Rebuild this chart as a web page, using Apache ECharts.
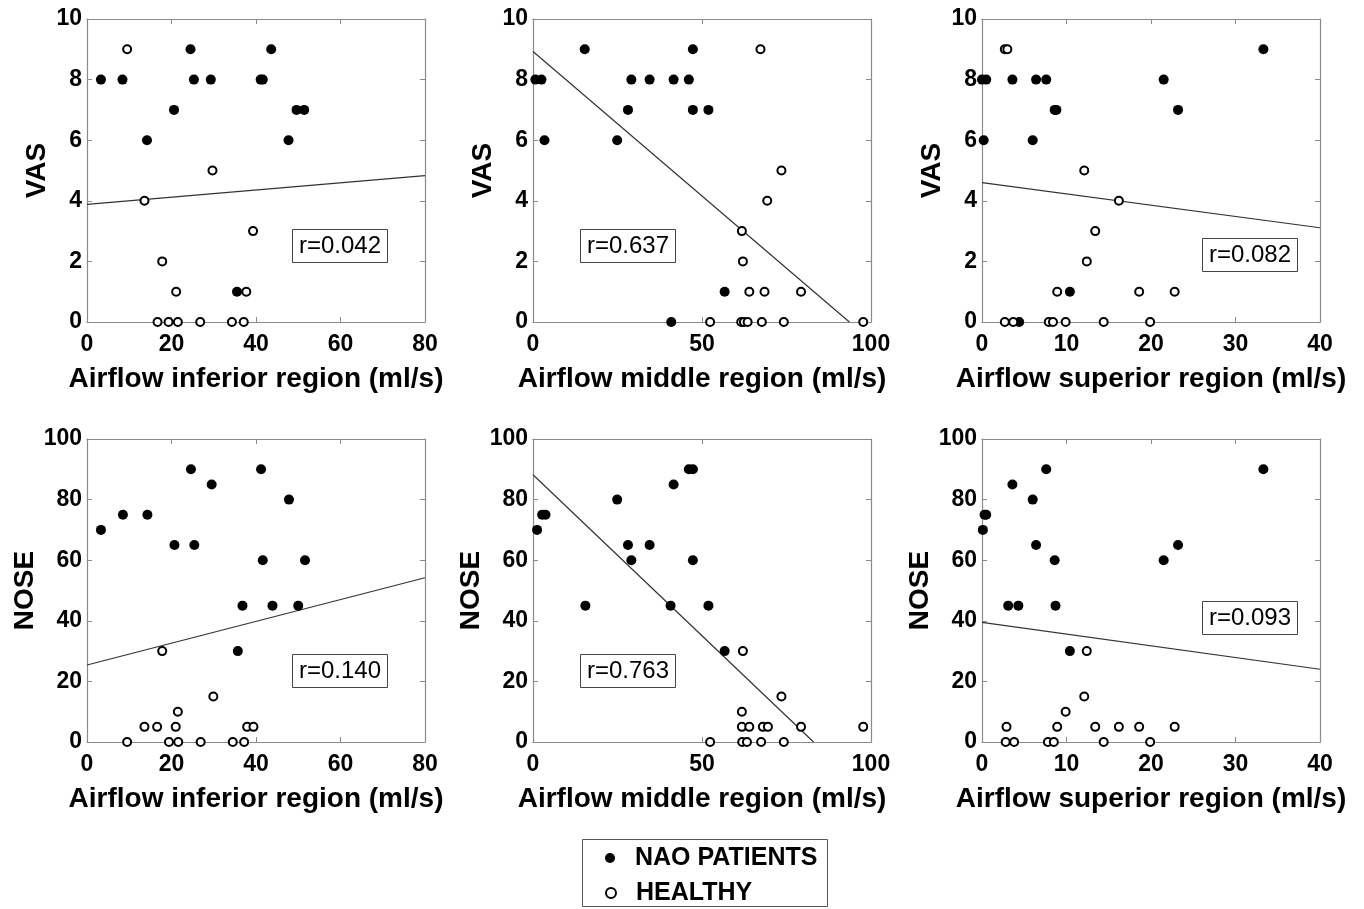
<!DOCTYPE html>
<html>
<head>
<meta charset="utf-8">
<script src="https://cdn.jsdelivr.net/npm/echarts@6/dist/echarts.min.js"></script>
<style>
  html, body { margin: 0; padding: 0; background: #fff; }
  #chart { width: 1364px; height: 909px; }
</style>
</head>
<body>
<div id="chart"></div>
<script>
  // points are [airflow, score]
  const vasInfNao = [[3.3, 8], [8.4, 8], [24.5, 9], [25.3, 8], [29.3, 8], [20.6, 7], [14.2, 6], [41.1, 8], [41.6, 8], [43.6, 9], [49.6, 7], [51.4, 7], [47.7, 6], [35.5, 1]]
  const vasInfHealthy = [[9.5, 9], [29.7, 5], [13.6, 4], [39.3, 3], [17.8, 2], [21.1, 1], [37.7, 1], [16.7, 0], [19.3, 0], [21.5, 0], [26.8, 0], [34.3, 0], [37.1, 0]]
  const vasInfFit = [[0, 3.88], [80, 4.83]]

  const vasMidNao = [[0.7, 8], [2.5, 8], [3.4, 6], [15.3, 9], [24.9, 6], [28.1, 7], [29.1, 8], [34.5, 8], [41.6, 8], [46.1, 8], [47.3, 9], [47.3, 7], [51.9, 7], [56.7, 1], [40.9, 0]]
  const vasMidHealthy = [[67.3, 9], [73.5, 5], [69.3, 4], [61.8, 3], [62.1, 2], [64.0, 1], [68.5, 1], [79.3, 1], [52.4, 0], [61.6, 0], [62.4, 0], [63.5, 0], [67.7, 0], [74.2, 0], [97.7, 0]]
  const vasMidFit = [[0, 8.93], [93.6, 0]]

  const vasSupNao = [[0, 8], [0.5, 8], [3.6, 8], [6.4, 8], [7.6, 8], [8.6, 7], [8.8, 7], [0.2, 6], [6.0, 6], [33.3, 9], [21.5, 8], [23.2, 7], [10.4, 1], [4.4, 0]]
  const vasSupHealthy = [[2.7, 9], [3.0, 9], [12.1, 5], [16.2, 4], [13.4, 3], [12.4, 2], [8.9, 1], [18.6, 1], [22.8, 1], [2.7, 0], [3.7, 0], [7.9, 0], [8.4, 0], [9.9, 0], [14.4, 0], [19.9, 0]]
  const vasSupFit = [[0, 4.60], [40, 3.11]]

  const noseInfNao = [[3.3, 70], [8.5, 75], [14.3, 75], [24.6, 90], [29.5, 85], [20.7, 65], [25.4, 65], [41.2, 90], [47.8, 80], [41.6, 60], [51.6, 60], [36.8, 45], [43.9, 45], [50.0, 45], [35.7, 30]]
  const noseInfHealthy = [[17.8, 30], [29.9, 15], [21.5, 10], [13.6, 5], [16.6, 5], [21.0, 5], [37.9, 5], [39.4, 5], [9.5, 0], [19.4, 0], [21.6, 0], [26.9, 0], [34.5, 0], [37.2, 0]]
  const noseInfFit = [[0, 25.4], [80, 54.2]]

  const noseMidNao = [[1.2, 70], [2.7, 75], [3.7, 75], [24.9, 80], [28.1, 65], [29.1, 60], [34.5, 65], [15.5, 45], [40.7, 45], [41.6, 85], [46.1, 90], [47.3, 90], [47.3, 60], [51.9, 45], [56.7, 30]]
  const noseMidHealthy = [[62.1, 30], [73.5, 15], [61.8, 10], [61.8, 5], [64.0, 5], [68.0, 5], [69.5, 5], [79.3, 5], [97.7, 5], [52.4, 0], [61.9, 0], [63.3, 0], [67.5, 0], [74.2, 0]]
  const noseMidFit = [[0, 88.2], [83.0, 0]]

  const noseSupNao = [[0.1, 70], [0.3, 75], [0.5, 75], [3.6, 85], [6.0, 80], [7.6, 90], [6.4, 65], [8.6, 60], [3.1, 45], [4.3, 45], [8.7, 45], [10.4, 30], [21.5, 60], [23.2, 65], [33.3, 90]]
  const noseSupHealthy = [[12.4, 30], [12.1, 15], [9.9, 10], [2.9, 5], [8.9, 5], [13.4, 5], [16.2, 5], [18.6, 5], [22.8, 5], [2.8, 0], [3.8, 0], [7.8, 0], [8.5, 0], [14.4, 0], [19.9, 0]]
  const noseSupFit = [[0, 39.5], [40, 24.0]]

  const rLabels = ['r=0.042', 'r=0.637', 'r=0.082', 'r=0.140', 'r=0.763', 'r=0.093']
  const xNames = ['Airflow inferior region (ml/s)', 'Airflow middle region (ml/s)', 'Airflow superior region (ml/s)']
  const yNames = ['VAS', 'NOSE']
  const xMaxes = [80, 100, 40]
  const xSteps = [20, 50, 10]
  const yMaxes = [10, 100]
  const ySteps = [2, 20]

  const panels = [
    [vasInfNao, vasInfHealthy, vasInfFit],
    [vasMidNao, vasMidHealthy, vasMidFit],
    [vasSupNao, vasSupHealthy, vasSupFit],
    [noseInfNao, noseInfHealthy, noseInfFit],
    [noseMidNao, noseMidHealthy, noseMidFit],
    [noseSupNao, noseSupHealthy, noseSupFit],
  ]

  const font = 'Liberation Sans'
  const frame = '#8a8a8a'
  const gridLefts = [87, 533, 982]
  const gridTops = [19, 439]
  const boxPos = [[292, 229], [580, 229], [1202, 238], [292, 654], [580, 654], [1202, 601]]

  const grid = []
  const xAxis = []
  const yAxis = []
  const series = []
  const title = []

  const tick = { show: true, inside: true, length: 5, lineStyle: { color: frame } }
  const line = { show: true, onZero: false, lineStyle: { color: frame, width: 1.2 } }

  panels.forEach((p, i) => {
    const row = Math.floor(i / 3)
    const col = i % 3
    grid.push({ left: gridLefts[col], top: gridTops[row], width: 338, height: 303, containLabel: false })

    // bottom / left axes carry labels
    xAxis.push({
      gridIndex: i, type: 'value', min: 0, max: xMaxes[col], interval: xSteps[col], position: 'bottom',
      name: xNames[col], nameLocation: 'middle', nameGap: 43,
      nameTextStyle: { fontFamily: font, fontWeight: 'bold', fontSize: 28, color: '#000' },
      axisLine: line, axisTick: tick, splitLine: { show: false },
      axisLabel: { fontFamily: font, fontWeight: 'bold', fontSize: 23, color: '#000', margin: 11 },
    })
    yAxis.push({
      gridIndex: i, type: 'value', min: 0, max: yMaxes[row], interval: ySteps[row], position: 'left',
      name: yNames[row], nameLocation: 'middle', nameGap: row === 0 ? 36 : 41, nameRotate: 90,
      nameTextStyle: { fontFamily: font, fontWeight: 'bold', fontSize: 28, color: '#000' },
      axisLine: line, axisTick: tick, splitLine: { show: false },
      axisLabel: { fontFamily: font, fontWeight: 'bold', fontSize: 23, color: '#000', margin: 5 },
    })
  })
  // top / right axes: just the box + inner ticks
  panels.forEach((p, i) => {
    const row = Math.floor(i / 3)
    const col = i % 3
    xAxis.push({
      gridIndex: i, type: 'value', min: 0, max: xMaxes[col], interval: xSteps[col], position: 'top',
      axisLine: line, axisTick: tick, axisLabel: { show: false }, splitLine: { show: false },
    })
    yAxis.push({
      gridIndex: i, type: 'value', min: 0, max: yMaxes[row], interval: ySteps[row], position: 'right',
      axisLine: line, axisTick: tick, axisLabel: { show: false }, splitLine: { show: false },
    })
  })

  panels.forEach((p, i) => {
    series.push({
      name: 'fit', type: 'line', xAxisIndex: i, yAxisIndex: i, data: p[2],
      symbol: 'none', silent: true, z: 1,
      lineStyle: { color: '#333', width: 1.2 },
    })
    series.push({
      name: 'NAO PATIENTS', type: 'scatter', xAxisIndex: i, yAxisIndex: i, data: p[0],
      symbolSize: 10, z: 3,
      itemStyle: { color: '#000', opacity: 1 },
    })
    series.push({
      name: 'HEALTHY', type: 'scatter', xAxisIndex: i, yAxisIndex: i, data: p[1],
      symbolSize: 8, z: 3,
      itemStyle: { color: '#fff', borderColor: '#000', borderWidth: 2, opacity: 1 },
    })
    title.push({
      text: rLabels[i], left: boxPos[i][0], top: boxPos[i][1],
      padding: [4, 7],
      borderColor: '#444', borderWidth: 1, backgroundColor: '#fff',
      textStyle: { fontFamily: font, fontWeight: 'normal', fontSize: 24, color: '#000', lineHeight: 26 },
    })
  })

  const legendBase = {
    left: 605,
    itemWidth: 40,
    itemHeight: 10,
    selectedMode: false,
    padding: 0,
    textStyle: { fontFamily: font, fontWeight: 'bold', fontSize: 25, color: '#000', lineHeight: 28 },
  }

  const chart = echarts.init(document.getElementById('chart'))
  chart.setOption({
    animation: false,
    backgroundColor: '#fff',
    title: title,
    grid: grid,
    xAxis: xAxis,
    yAxis: yAxis,
    legend: [
      Object.assign({}, legendBase, { top: 844, data: [{ name: 'NAO PATIENTS', icon: 'circle' }] }),
      Object.assign({}, legendBase, { top: 879, data: [{ name: 'HEALTHY', icon: 'circle' }] }),
    ],
    graphic: [{
      type: 'rect',
      shape: { x: 582.5, y: 839.5, width: 245, height: 67 },
      style: { fill: 'none', stroke: '#555', lineWidth: 1 },
      silent: true,
    }],
    series: series,
  })
</script>
</body>
</html>
